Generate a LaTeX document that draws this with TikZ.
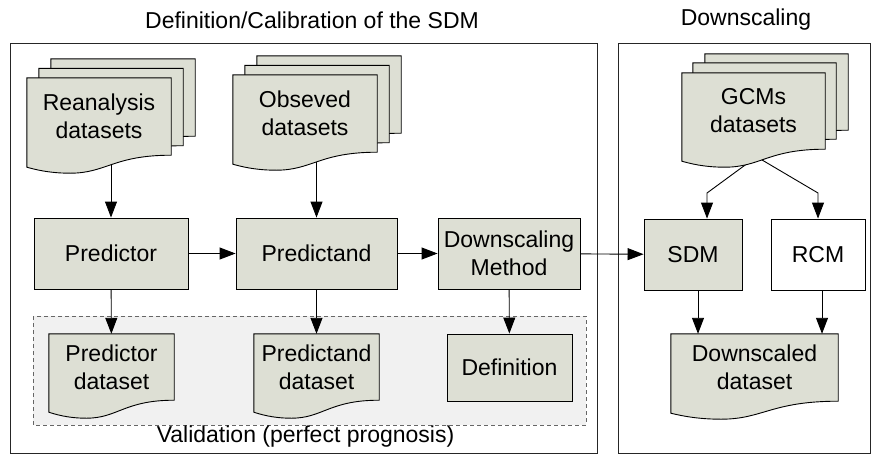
\documentclass[tikz,border=0pt]{standalone}
\usepackage{fontspec}
\setmainfont{Liberation Sans}
\usepackage{tikz}
\usetikzlibrary{arrows.meta,calc,backgrounds}
\definecolor{boxgray}{RGB}{221,223,212}
\definecolor{valgray}{RGB}{241,241,241}
\tikzset{
    %Define standard arrow tip
    >={Triangle[length=16pt,width=12pt]},
    %Define style for boxes
    punktrect/.style={
           rectangle,
           draw=black, line width=0.9pt,
           fill=boxgray,
           inner sep=0pt,
           align=center,
           font=\fontsize{23}{28}\selectfont},
    %Define style for the text of the sheets
    punktdoc/.style={
           rectangle,
           inner sep=0pt,
           align=center,
           font=\fontsize{23}{28}\selectfont},
    % fill=black!10,
    sheet/.style={draw=black, line width=0.9pt, fill=boxgray},
    % Define arrow style
    pil/.style={
           ->,
           line width=0.9pt},
    ramme/.style={draw=black!85, line width=0.9pt}
}

% wavy sheet round node #2, moved by #1
\newcommand{\docshape}[2][0,0]{%
  \path[sheet] let \p1=($(#2.south west)+(#1)$), \p2=($(#2.south east)+(#1)$),
      \p3=($(#2.north west)+(#1)$), \p4=($(#2.north east)+(#1)$), \n1={\x2-\x1} in
    (\p3) -- (\p4) -- (\p2)
    .. controls (\x2-0.4*\n1,\y2) and (\x1+0.55*\n1,\y1-18pt) .. (\x1+0.3*\n1,\y1-18pt)
    .. controls (\x1+0.15*\n1,\y1-18pt) and (\x1+0.05*\n1,\y1-14pt) .. (\x1,\y1-12pt) -- cycle;}

\begin{document}
\begin{tikzpicture}[x=1pt,y=-1pt,font=\fontsize{23}{28}\selectfont]
\useasboundingbox (0,0) rectangle (872,455);

\node(13) at (312,20){Definition/Calibration of the SDM};
\node(14) at (746,20){Downscaling};
\draw[ramme] (10,43) rectangle (597,453);
\draw[ramme] (618,43) rectangle (870,453);

\node[punktdoc, minimum width=144pt, minimum height=77pt](1) at (99,116.5){Reanalysis\\datasets};
\node[punktdoc, minimum width=144pt, minimum height=77pt](2) at (305,113.5){Obseved\\datasets};
\node[punktrect, minimum width=154pt, minimum height=71pt](3) at (111,253.5){Predictor};
\node[punktrect, minimum width=161pt, minimum height=71pt](4) at (316.5,253.5){Predictand};
\node[punktrect, minimum width=142pt, minimum height=71pt](5) at (509,253.5){Downscaling\\Method};
\node[punktdoc, minimum width=125pt, minimum height=66pt](6) at (111.5,367){Predictor\\dataset};
\node[punktdoc, minimum width=125pt, minimum height=66pt](7) at (316.5,367){Predictand\\dataset};
\node[punktrect, minimum width=125pt, minimum height=67pt](8) at (509.5,367.5){Definition};
\node[punktdoc, minimum width=143pt, minimum height=76pt](9) at (753.5,111){GCMs\\datasets};
\node[punktrect, minimum width=98pt, minimum height=71pt](10) at (693,254.5){SDM};
\node[punktrect, fill=white, minimum width=94pt, minimum height=71pt](11) at (818,254.5){RCM};
\node[punktdoc, minimum width=167pt, minimum height=67pt](12) at (754.5,367.5){Downscaled\\dataset};
\node(15) at (305.5,437){Validation (perfect prognosis)};

\coordinate(16) at (752,160);
\coordinate(17) at (707,193);
\coordinate(18) at (757,157);
\coordinate(19) at (818,193);

\begin{scope}[on background layer]
 \draw[dashed, dash pattern=on 4pt off 3pt, draw=black!60, fill=valgray, line width=0.8pt] (33,316) rectangle (586,425);
 \draw[pil] (3.north |- 1.center) -- (3.north);
 \draw[pil] (4.north |- 2.center) -- (4.north);
 \draw[pil] (16) -- (17) -- (17 |- 10.north);
 \draw[pil] (18) -- (19) -- (19 |- 11.north);
 \docshape[24,-19]{1}
 \docshape[12,-9.5]{1}
 \docshape{1}
 \docshape[24,-19]{2}
 \docshape[12,-9.5]{2}
 \docshape{2}
 \docshape[23,-19]{9}
 \docshape[11,-10]{9}
 \docshape{9}
 \docshape{6}
 \docshape{7}
 \docshape{12}
\end{scope}

 \path[pil]
 	(3) edge (4)
 	(4) edge (5)
 	(5) edge (10)
 	(3) edge (6)
 	(4) edge (7)
 	(5) edge (8);
 \draw[pil] ([xshift=5pt]10.south) -- ([xshift=5pt]10.south |- 12.north);
 \draw[pil] ([xshift=4pt]11.south) -- ([xshift=4pt]11.south |- 12.north);

\end{tikzpicture}
\end{document}
